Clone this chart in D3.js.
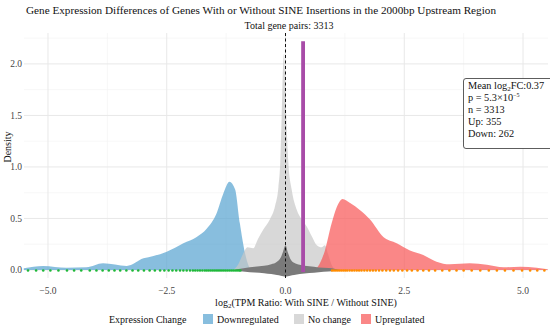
<!DOCTYPE html>
<html>
<head>
<meta charset="utf-8">
<script src="https://cdn.jsdelivr.net/npm/d3@7"></script>
<style>
  html, body { margin: 0; padding: 0; background: #fff; }
  svg { display: block; font-family: "Liberation Serif", "Times New Roman", serif; }
</style>
</head>
<body>
<svg id="chart" width="550" height="329"></svg>
<script>
// ---------------- DATA ----------------
const groups = ["Downregulated", "No change", "Upregulated"];
const groupColors = ["#56a2d0", "#c8c8c8", "#f85454"];

const downX = [-5.51, -5.10, -4.61, -4.19, -3.84, -3.34, -2.99, -2.78, -2.50, -2.15, -1.87, -1.66, -1.45, -1.31, -1.18, -1.06, -0.96, -0.85, -0.75, -0.70];
const downDensity = [0.016, 0.039, 0.022, 0.026, 0.065, 0.039, 0.113, 0.136, 0.178, 0.26, 0.32, 0.40, 0.55, 0.74, 0.857, 0.78, 0.45, 0.16, 0.016, 0];

const noChangeX = [-1.10, -1.00, -0.90, -0.80, -0.68, -0.58, -0.47, -0.33, -0.22, -0.15, -0.11, -0.08, -0.05, -0.03, -0.01, 0.02, 0.06, 0.13, 0.24, 0.34, 0.45, 0.55, 0.66, 0.76, 0.83, 0.90, 0.97, 1.05];
const noChangeDensity = [0, 0.05, 0.15, 0.22, 0.21, 0.30, 0.39, 0.49, 0.62, 0.80, 1.05, 1.50, 2.00, 2.10, 1.90, 1.45, 1.04, 0.78, 0.58, 0.49, 0.42, 0.33, 0.24, 0.22, 0.24, 0.15, 0.05, 0];

const upX = [0.62, 0.68, 0.83, 0.97, 1.08, 1.20, 1.36, 1.57, 1.78, 2.06, 2.34, 2.62, 2.90, 3.18, 3.46, 3.88, 4.24, 4.59, 4.94, 5.29, 5.52];
const upDensity = [0, 0.03, 0.19, 0.45, 0.61, 0.69, 0.65, 0.58, 0.49, 0.32, 0.26, 0.19, 0.146, 0.08, 0.055, 0.065, 0.05, 0.026, 0.032, 0.022, 0.008];

// jittered no-change points cloud (upper / lower envelope)
const cloudX = [-1.05, -0.85, -0.65, -0.45, -0.30, -0.18, -0.10, -0.05, 0.00, 0.05, 0.10, 0.18, 0.30, 0.50, 0.70, 0.90, 1.05, 1.15];
const cloudUpper = [0.005, 0.02, 0.03, 0.04, 0.055, 0.08, 0.12, 0.18, 0.24, 0.17, 0.11, 0.07, 0.05, 0.035, 0.025, 0.018, 0.01, 0.0];
const cloudLower = [-0.005, -0.018, -0.025, -0.032, -0.04, -0.048, -0.055, -0.06, -0.065, -0.06, -0.055, -0.048, -0.04, -0.03, -0.022, -0.015, -0.008, 0.0];

// rug points for down / up regulated genes
const downPoints = [-5.42, -5.25, -5.10, -4.95, -4.78, -4.60, -4.45, -4.30, -4.12, -3.98, -3.85, -3.72, -3.60, -3.48, -3.35, -3.22, -3.10, -2.98, -2.86, -2.75, -2.64, -2.55, -2.46, -2.38, -2.30, -2.22, -2.15, -2.08, -2.01, -1.95, -1.90, -1.85, -1.80, -1.75, -1.70, -1.66, -1.62, -1.58, -1.54, -1.50, -1.46, -1.42, -1.38, -1.34, -1.30, -1.26, -1.22, -1.18, -1.14, -1.10, -1.06, -1.02, -0.98, -0.95];
const upPoints = [0.98, 1.02, 1.06, 1.10, 1.14, 1.18, 1.22, 1.26, 1.30, 1.35, 1.40, 1.45, 1.50, 1.55, 1.60, 1.66, 1.72, 1.78, 1.84, 1.90, 1.97, 2.04, 2.12, 2.20, 2.28, 2.37, 2.46, 2.56, 2.66, 2.78, 2.90, 3.02, 3.15, 3.30, 3.45, 3.60, 3.75, 3.92, 4.10, 4.28, 4.45, 4.62, 4.80, 4.98, 5.15, 5.30, 5.45];

const meanLog2FC = 0.37;
const meanLineTop = 2.22;
const xTicks = [-5, -2.5, 0, 2.5, 5];
const xMinorTicks = [-3.75, -1.25, 1.25, 3.75];
const yTicks = [0, 0.5, 1.0, 1.5, 2.0];
const yMinorTicks = [0.25, 0.75, 1.25, 1.75, 2.25];

const titleText = "Gene Expression Differences of Genes With or Without SINE Insertions in the 2000bp Upstream Region";
const subtitleText = "Total gene pairs: 3313";
const statLines = ["n = 3313", "Up: 355", "Down: 262"];

// ---------------- LAYOUT ----------------
const svg = d3.select("#chart");
const L = 24, R = 548, T = 33, B = 278;
const x = d3.scaleLinear().domain([-5.505, 5.526]).range([L, R]);
const y = d3.scaleLinear().domain([-0.078, 2.30]).range([B, T]);

// grid
const grid = svg.append("g");
grid.selectAll(".vmin").data(xMinorTicks).join("line")
  .attr("x1", d => x(d)).attr("x2", d => x(d)).attr("y1", T).attr("y2", B)
  .attr("stroke", "#f2f2f2").attr("stroke-width", 0.6);
grid.selectAll(".hmin").data(yMinorTicks).join("line")
  .attr("y1", d => y(d)).attr("y2", d => y(d)).attr("x1", L).attr("x2", R)
  .attr("stroke", "#f2f2f2").attr("stroke-width", 0.6);
grid.selectAll(".vmaj").data(xTicks).join("line")
  .attr("x1", d => x(d)).attr("x2", d => x(d)).attr("y1", T).attr("y2", B)
  .attr("stroke", "#e8e8e8").attr("stroke-width", 1);
grid.selectAll(".hmaj").data(yTicks).join("line")
  .attr("y1", d => y(d)).attr("y2", d => y(d)).attr("x1", L).attr("x2", R)
  .attr("stroke", "#e8e8e8").attr("stroke-width", 1);

// densities
const area = d3.area().curve(d3.curveMonotoneX)
  .x(d => x(d[0])).y0(y(0)).y1(d => y(d[1]));
const series = [
  d3.zip(downX, downDensity),
  d3.zip(noChangeX, noChangeDensity),
  d3.zip(upX, upDensity)
];
svg.append("g").selectAll("path").data(series).join("path")
  .attr("d", area)
  .attr("fill", (d, i) => groupColors[i])
  .attr("fill-opacity", 0.7);

// cloud of jittered no-change points
const cloud = d3.area().curve(d3.curveMonotoneX)
  .x(d => x(d[0])).y0(d => y(d[2])).y1(d => y(d[1]));
svg.append("path").datum(d3.zip(cloudX, cloudUpper, cloudLower))
  .attr("d", cloud).attr("fill", "#7a7a7a");

// rugs
svg.append("g").selectAll("circle").data(downPoints).join("circle")
  .attr("cx", d => x(d)).attr("cy", y(-0.005)).attr("r", 1.3).attr("fill", "#1fb83a");
svg.append("g").selectAll("circle").data(upPoints).join("circle")
  .attr("cx", d => x(d)).attr("cy", y(-0.005)).attr("r", 1.3).attr("fill", "#ff8c00");

// zero line and mean line
svg.append("line").attr("x1", x(0)).attr("x2", x(0)).attr("y1", T).attr("y2", B)
  .attr("stroke", "#111").attr("stroke-width", 1).attr("stroke-dasharray", "3,2.5");
svg.append("line").attr("x1", x(meanLog2FC)).attr("x2", x(meanLog2FC))
  .attr("y1", y(meanLineTop)).attr("y2", y(-0.02))
  .attr("stroke", "#a84ca8").attr("stroke-width", 3.8);

// axes labels
svg.append("g").selectAll("text").data(xTicks).join("text")
  .attr("x", d => x(d)).attr("y", 293.5).attr("text-anchor", "middle")
  .attr("font-size", 9.5).attr("fill", "#444")
  .text(d => d3.format(".1f")(d).replace("-", "\u2212"));
svg.append("g").selectAll("text").data(yTicks).join("text")
  .attr("x", 22).attr("y", d => y(d) + 3.3).attr("text-anchor", "end")
  .attr("font-size", 9.5).attr("fill", "#444")
  .text(d => d3.format(".1f")(d));

// axis titles
const xt = svg.append("text").attr("x", 306).attr("y", 306).attr("text-anchor", "middle")
  .attr("font-size", 10).attr("fill", "#111");
xt.append("tspan").text("log");
xt.append("tspan").attr("font-size", 7).attr("dy", 2).text("2");
xt.append("tspan").attr("dy", -2).text("(TPM Ratio: With SINE / Without SINE)");

svg.append("text").attr("transform", "translate(11,147) rotate(-90)")
  .attr("text-anchor", "middle").attr("font-size", 10).attr("fill", "#111").text("Density");

// titles
svg.append("text").attr("x", 26).attr("y", 13.5).attr("font-size", 11.2).attr("fill", "#111")
  .attr("textLength", 470).attr("lengthAdjust", "spacingAndGlyphs").text(titleText);
svg.append("text").attr("x", 289).attr("y", 28.5).attr("text-anchor", "middle")
  .attr("font-size", 10).attr("fill", "#111").text(subtitleText);

// stats box (right edge runs off the canvas as in the reference)
svg.append("rect").attr("x", 463.5).attr("y", 78.5).attr("width", 92).attr("height", 70)
  .attr("rx", 2.5).attr("fill", "#fff").attr("stroke", "#333").attr("stroke-width", 0.8);
const st = svg.append("g").attr("font-size", 10.3).attr("fill", "#111");
const l1 = st.append("text").attr("x", 468).attr("y", 89);
l1.append("tspan").text("Mean log");
l1.append("tspan").attr("font-size", 7).attr("dy", 2).text("2");
l1.append("tspan").attr("dy", -2).text("FC:" + meanLog2FC.toFixed(2));
const l2 = st.append("text").attr("x", 468).attr("y", 101);
l2.append("tspan").text("p = 5.3×10");
l2.append("tspan").attr("font-size", 6).attr("dy", -4).text("\u22125");
st.selectAll(".sl").data(statLines).join("text")
  .attr("x", 468).attr("y", (d, i) => 113 + i * 12).text(d => d);

// legend
const lg = svg.append("g").attr("font-size", 10).attr("fill", "#111");
lg.append("text").attr("x", 109).attr("y", 323).text("Expression Change");
const legendX = [203, 294, 361];
groups.forEach((g, i) => {
  lg.append("rect").attr("x", legendX[i]).attr("y", 314).attr("width", 10).attr("height", 10)
    .attr("fill", groupColors[i]).attr("fill-opacity", 0.7);
  lg.append("text").attr("x", legendX[i] + 14).attr("y", 323).text(g);
});
</script>
</body>
</html>
